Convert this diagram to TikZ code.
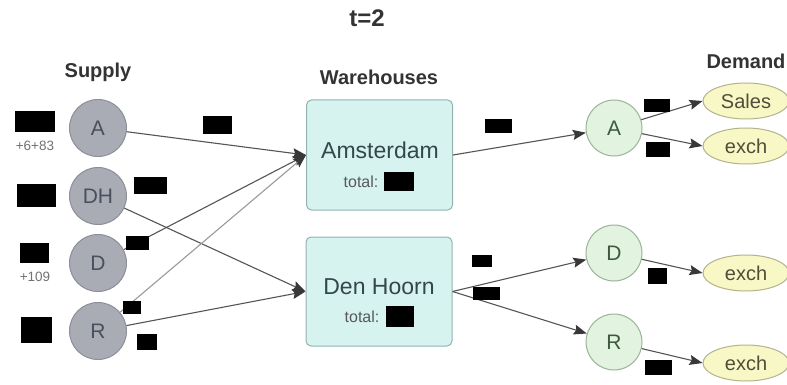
\documentclass[tikz,border=0pt]{standalone}
\usepackage{fontspec}
\setmainfont{Liberation Sans}
\usetikzlibrary{arrows.meta,shapes.geometric}
\definecolor{supfill}{HTML}{A9ACB5}
\definecolor{supdraw}{HTML}{8C8F98}
\definecolor{suptext}{HTML}{4A4F5E}
\definecolor{whfill}{HTML}{D6F3F0}
\definecolor{whdraw}{HTML}{93B3B0}
\definecolor{whtext}{HTML}{34474A}
\definecolor{dmfill}{HTML}{E2F4E0}
\definecolor{dmdraw}{HTML}{9AB497}
\definecolor{dmtext}{HTML}{3E5A3E}
\definecolor{elfill}{HTML}{F8F8C6}
\definecolor{eldraw}{HTML}{B5B38C}
\definecolor{eltext}{HTML}{4E4E3A}
\definecolor{edgecol}{HTML}{555555}
\definecolor{tipcol}{HTML}{383838}
\definecolor{lightedge}{HTML}{9A9A9A}
\tikzset{
  supnode/.style={circle,draw=supdraw,fill=supfill,line width=1pt,minimum size=57pt,inner sep=0pt,text=suptext,font=\fontsize{21}{25}\selectfont},
  whbox/.style={rectangle,rounded corners=5pt,draw=whdraw,fill=whfill,line width=1pt,minimum width=146pt,minimum height=110pt,inner sep=0pt},
  whname/.style={text=whtext,font=\fontsize{23}{27}\selectfont,inner sep=0pt},
  totaltxt/.style={text=black!65,font=\fontsize{16}{19}\selectfont,inner sep=0pt},
  dmnode/.style={circle,draw=dmdraw,fill=dmfill,line width=1pt,minimum size=56pt,inner sep=0pt,text=dmtext,font=\fontsize{21}{25}\selectfont},
  elnode/.style={ellipse,draw=eldraw,fill=elfill,line width=1pt,minimum width=86pt,minimum height=36pt,inner sep=0pt,text=eltext,font=\fontsize{20}{24}\selectfont},
  heading/.style={text=black!80,font=\bfseries\fontsize{20}{24}\selectfont,inner sep=0pt},
  smalltxt/.style={text=black!55,font=\fontsize{13.5}{16}\selectfont,inner sep=0pt},
  flow/.style={draw=edgecol,line width=1.1pt,-{Stealth[length=13pt,width=10pt,inset=2pt,color=tipcol]}},
  lightflow/.style={flow,draw=lightedge},
  redact/.style={fill=black}
}
\begin{document}
\begin{tikzpicture}[x=1pt,y=-1pt]
\useasboundingbox (0,0) rectangle (787,385);
\clip (0,0) rectangle (787,385);
\fill[white] (0,0) rectangle (787,385);

% headings
\node[heading,font=\bfseries\fontsize{24}{28}\selectfont] (title) at (367,18) {t=2};
\node[heading] (hsup) at (98,72) {Supply};
\node[heading] (hwh) at (379,77) {Warehouses};
\node[heading] (hdm) at (746,61) {Demand};

% supply
\node[supnode] (sA) at (98,128) {A};
\node[supnode] (sDH) at (98,196) {DH};
\node[supnode] (sD) at (98,263) {D};
\node[supnode] (sR) at (98,331) {R};
\node[smalltxt] (n1) at (35,146) {+6+83};
\node[smalltxt] (n2) at (35,277) {+109};

% warehouses
\node[whbox] (ams) at (379.5,155) {};
\node[whbox,minimum height=109pt] (dh) at (379,291.5) {};
\node[whname] (amsname) at (380,150) {Amsterdam};
\node[totaltxt] (amstot) at (361,182) {total:};
\node[whname] (dhname) at (379,287) {Den Hoorn};
\node[totaltxt] (dhtot) at (362,317) {total:};

% demand
\node[dmnode] (dA) at (614,128) {A};
\node[dmnode] (dD) at (614,253) {D};
\node[dmnode] (dR) at (614,342) {R};
\node[elnode] (sales) at (746,101) {Sales};
\node[elnode] (exA) at (746,146) {exch};
\node[elnode] (exD) at (746,273) {exch};
\node[elnode] (exR) at (746,363) {exch};

% flows
\draw[flow] (sA) -- (ams.west);
\draw[flow] (sDH) -- (dh.west);
\draw[flow] (sD) -- (ams.west);
\draw[lightflow] (sR) -- (ams.west);
\draw[flow] (sR) -- (dh.west);
\draw[flow] (ams.east) -- (dA);
\draw[flow] (dh.east) -- (dD);
\draw[flow] (dh.east) -- (dR);
\draw[flow] (dA) -- (sales.west);
\draw[flow] (dA) -- (exA.west);
\draw[flow] (dD) -- (exD.west);
\draw[flow] (dR) -- (exR.west);

% redactions
\fill[redact] (15,111) rectangle (55,132);
\fill[redact] (17,184) rectangle (56,207);
\fill[redact] (20,243) rectangle (49,263);
\fill[redact] (21,317) rectangle (52,343);
\fill[redact] (203,116) rectangle (232,134);
\fill[redact] (134,177) rectangle (167,194);
\fill[redact] (126,236) rectangle (149,250);
\fill[redact] (123,301) rectangle (141,314);
\fill[redact] (137,334) rectangle (157,350);
\fill[redact] (384,172) rectangle (414,191);
\fill[redact] (386,306) rectangle (414,327);
\fill[redact] (485,119) rectangle (512,133);
\fill[redact] (644,99) rectangle (670,112);
\fill[redact] (646,142) rectangle (670,157);
\fill[redact] (472,255) rectangle (492,267);
\fill[redact] (473,287) rectangle (500,300);
\fill[redact] (648,268) rectangle (667,284);
\fill[redact] (645,360) rectangle (672,375);
\end{tikzpicture}
\end{document}
